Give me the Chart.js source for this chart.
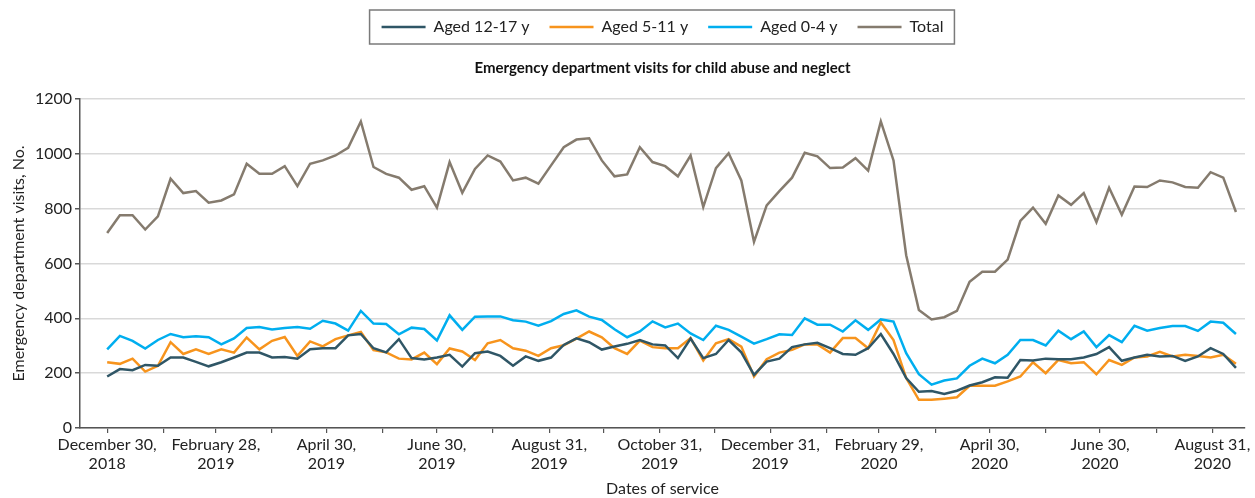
<!DOCTYPE html>
<html>
<head>
<meta charset="utf-8">
<title>Emergency department visits for child abuse and neglect</title>
<script src="https://cdn.jsdelivr.net/npm/chart.js@4.4.1/dist/chart.umd.min.js"></script>
<style>
    html, body { margin: 0; padding: 0; background: #ffffff; }
    #contenedor { width: 1255px; height: 498px; }
</style>
</head>
<body>
<div id="contenedor"><canvas id="lineas"></canvas></div>
<script>
// Primera semana de la serie (los datos son semanales)
var fechaInicio = "December 30, 2018";

var nombresSeries = ["Aged 12-17 y", "Aged 5-11 y", "Aged 0-4 y", "Total"];

// Visitas semanales
var aged12a17 = [
    188, 215, 211, 230, 227, 257, 257, 241, 225, 240, 257, 275, 275, 257, 259,
    253, 287, 291, 291, 338, 343, 291, 276, 324, 255, 250, 257, 267, 224, 273,
    279, 263, 227, 261, 245, 257, 303, 327, 313, 286, 297, 307, 321, 305, 301,
    255, 326, 255, 270, 321, 276, 194, 242, 253, 295, 305, 311, 291, 270, 267,
    291, 343, 270, 182, 132, 135, 124, 136, 155, 167, 185, 183, 248, 246, 253,
    251, 251, 257, 270, 295, 245, 257, 267, 261, 263, 245, 261, 291, 270, 219
];
var aged5a11 = [
    240, 234, 253, 206, 227, 313, 270, 287, 270, 287, 275, 330, 287, 318, 332,
    263, 316, 298, 324, 338, 350, 284, 276, 253, 250, 275, 233, 290, 279, 248,
    309, 321, 291, 282, 263, 291, 302, 326, 352, 331, 291, 270, 319, 295, 291,
    291, 328, 246, 309, 324, 297, 188, 251, 275, 285, 305, 305, 275, 328, 328,
    291, 385, 321, 182, 103, 103, 107, 112, 154, 154, 154, 170, 188, 240, 200,
    248, 236, 240, 196, 248, 230, 257, 261, 278, 261, 267, 263, 257, 267, 234
];
var aged0a4 = [
    287, 336, 318, 290, 321, 343, 331, 335, 331, 305, 327, 365, 368, 359, 365,
    368, 362, 391, 381, 355, 427, 381, 379, 342, 366, 361, 319, 411, 358, 406,
    407, 407, 393, 388, 373, 390, 416, 429, 406, 394, 360, 331, 352, 389, 367,
    381, 345, 321, 373, 358, 333, 308, 324, 342, 339, 400, 377, 377, 352, 393,
    358, 396, 388, 273, 196, 158, 173, 181, 227, 253, 236, 267, 321, 321, 301,
    355, 324, 352, 295, 339, 313, 373, 355, 365, 372, 372, 354, 388, 384, 343
];
var total = [
    711, 776, 776, 724, 772, 909, 857, 864, 822, 830, 852, 964, 927, 927, 955,
    882, 964, 976, 994, 1022, 1118, 952, 927, 913, 869, 882, 804, 970, 858, 945,
    994, 972, 903, 913, 891, 958, 1024, 1052, 1057, 976, 918, 925, 1024, 970, 955,
    918, 994, 806, 948, 1002, 903, 679, 812, 864, 913, 1004, 991, 948, 950, 984,
    939, 1118, 976, 630, 430, 396, 404, 427, 533, 570, 570, 614, 755, 804, 745,
    848, 814, 857, 751, 876, 778, 881, 879, 903, 896, 879, 876, 933, 913, 788
];

// Marcas del eje X: una por mes, con etiqueta cada dos meses
var etiquetasEje = [
    "December 30, 2018", "February 28, 2019", "April 30, 2019", "June 30, 2019",
    "August 31, 2019", "October 31, 2019", "December 31, 2019", "February 29, 2020",
    "April 30, 2020", "June 30, 2020", "August 31, 2020"
];
var marcasSinEtiqueta = [
    "January 30, 2019", "March 31, 2019", "May 31, 2019", "July 31, 2019",
    "September 30, 2019", "November 30, 2019", "January 31, 2020", "March 31, 2020",
    "May 31, 2020", "July 31, 2020"
];

var colores = ["#2f5666", "#f7941d", "#00aeef", "#857b6e"];


/**
 * Días transcurridos desde la primera semana
 */
function diasDesdeInicio(texto) {
    return Math.round((new Date(texto) - new Date(fechaInicio)) / 86400000);
}


/**
 * Convierte una serie semanal en puntos {x: día, y: valor}
 */
function puntosSemanales(valores) {
    return valores.map(function (v, i) {
        return { x: i * 7, y: v };
    });
}


/**
 * Plugin que centra la leyenda y el título sobre el área del gráfico
 * y dibuja el recuadro de la leyenda
 */
var pluginLeyenda = {
    id: "recuadroLeyenda",
    afterLayout: function (chart) {
        var area = chart.chartArea;
        var centro = (area.left + area.right) / 2;
        [chart.legend, chart.titleBlock].forEach(function (caja) {
            var d = centro - (caja.left + caja.right) / 2;
            caja.left += d;
            caja.right += d;
        });
        chart.legend.top -= 1;
        chart.legend.bottom -= 1;
    },
    afterDraw: function (chart) {
        var cajas = chart.legend.legendHitBoxes;
        if (!cajas || !cajas.length) return;
        var izq = Infinity, der = -Infinity, cy = 0;
        cajas.forEach(function (c) {
            izq = Math.min(izq, c.left);
            der = Math.max(der, c.left + c.width);
            cy = c.top + c.height / 2;
        });
        var ctx = chart.ctx;
        ctx.save();
        ctx.strokeStyle = "#7a7a7a";
        ctx.lineWidth = 1.5;
        ctx.strokeRect(izq - 12, cy - 17, der - izq + 23, 34);
        ctx.restore();
    }
};


/**
 * Función para generar el gráfico de líneas
 */
function cargaGraficoLineas() {
    var seriesValores = [aged12a17, aged5a11, aged0a4, total];

    var datos = {
        datasets: nombresSeries.map(function (nombre, i) {
            return {
                label: nombre,
                data: puntosSemanales(seriesValores[i]),
                borderColor: colores[i],
                backgroundColor: colores[i],
                borderWidth: 2.5,
                pointRadius: 0,
                tension: 0
            };
        })
    };

    // Etiquetas de dos líneas: "December 30," / "2018"
    var textoMarca = {};
    etiquetasEje.forEach(function (t) {
        var partes = t.split(", ");
        textoMarca[diasDesdeInicio(t)] = [partes[0] + ",", partes[1]];
    });
    var valoresMarcas = etiquetasEje.concat(marcasSinEtiqueta).map(diasDesdeInicio);
    valoresMarcas.sort(function (a, b) { return a - b; });

    var config = {
        type: "line",
        data: datos,
        plugins: [pluginLeyenda],
        options: {
            responsive: true,
            maintainAspectRatio: false,
            animation: false,
            layout: {
                padding: { left: 0, right: 10, top: 0, bottom: 0 }
            },
            plugins: {
                legend: {
                    position: "top",
                    weight: 1000,
                    labels: {
                        usePointStyle: true,
                        pointStyle: "line",
                        pointStyleWidth: 44,
                        padding: 20,
                        color: "#222222",
                        font: { size: 16 }
                    }
                },
                title: {
                    display: true,
                    weight: 500,
                    text: "Emergency department visits for child abuse and neglect",
                    color: "#111111",
                    font: { size: 15, weight: "bold" },
                    padding: { top: 13, bottom: 22 }
                },
                tooltip: { enabled: false }
            },
            scales: {
                x: {
                    type: "linear",
                    min: -15,
                    max: 628,
                    afterBuildTicks: function (eje) {
                        eje.ticks = valoresMarcas.map(function (v) {
                            return { value: v };
                        });
                    },
                    afterFit: function (eje) {
                        eje.height = 70;
                        eje.paddingLeft = 0;
                        eje.paddingRight = 0;
                    },
                    ticks: {
                        autoSkip: false,
                        maxRotation: 0,
                        minRotation: 0,
                        padding: 3,
                        color: "#222222",
                        font: { size: 16, lineHeight: 1.15 },
                        callback: function (valor) {
                            return textoMarca[valor] || "";
                        }
                    },
                    grid: {
                        drawOnChartArea: false,
                        drawTicks: true,
                        tickLength: 5,
                        color: "#555555",
                        lineWidth: 1.2
                    },
                    border: {
                        color: "#555555",
                        width: 1.5
                    },
                    title: {
                        display: true,
                        text: "Dates of service",
                        color: "#222222",
                        font: { size: 16 },
                        padding: { top: 0, bottom: 0 }
                    }
                },
                y: {
                    min: 0,
                    max: 1200,
                    afterFit: function (eje) {
                        eje.width = 80;
                    },
                    ticks: {
                        stepSize: 200,
                        padding: 3,
                        color: "#222222",
                        font: { size: 16 },
                        callback: function (valor) {
                            return String(valor);
                        }
                    },
                    grid: {
                        color: "#d9d9d9",
                        lineWidth: 1.5,
                        tickColor: "#555555",
                        tickLength: 5
                    },
                    border: {
                        color: "#555555",
                        width: 1.5
                    },
                    title: {
                        display: true,
                        text: "Emergency department visits, No.",
                        color: "#222222",
                        font: { size: 16 },
                        padding: { top: 9, bottom: 0 }
                    }
                }
            }
        }
    };

    var grafico = document.getElementById("lineas").getContext("2d");
    new Chart(grafico, config);
}


Chart.defaults.font.family = "Lato, 'Open Sans', sans-serif";
cargaGraficoLineas();
</script>
</body>
</html>
